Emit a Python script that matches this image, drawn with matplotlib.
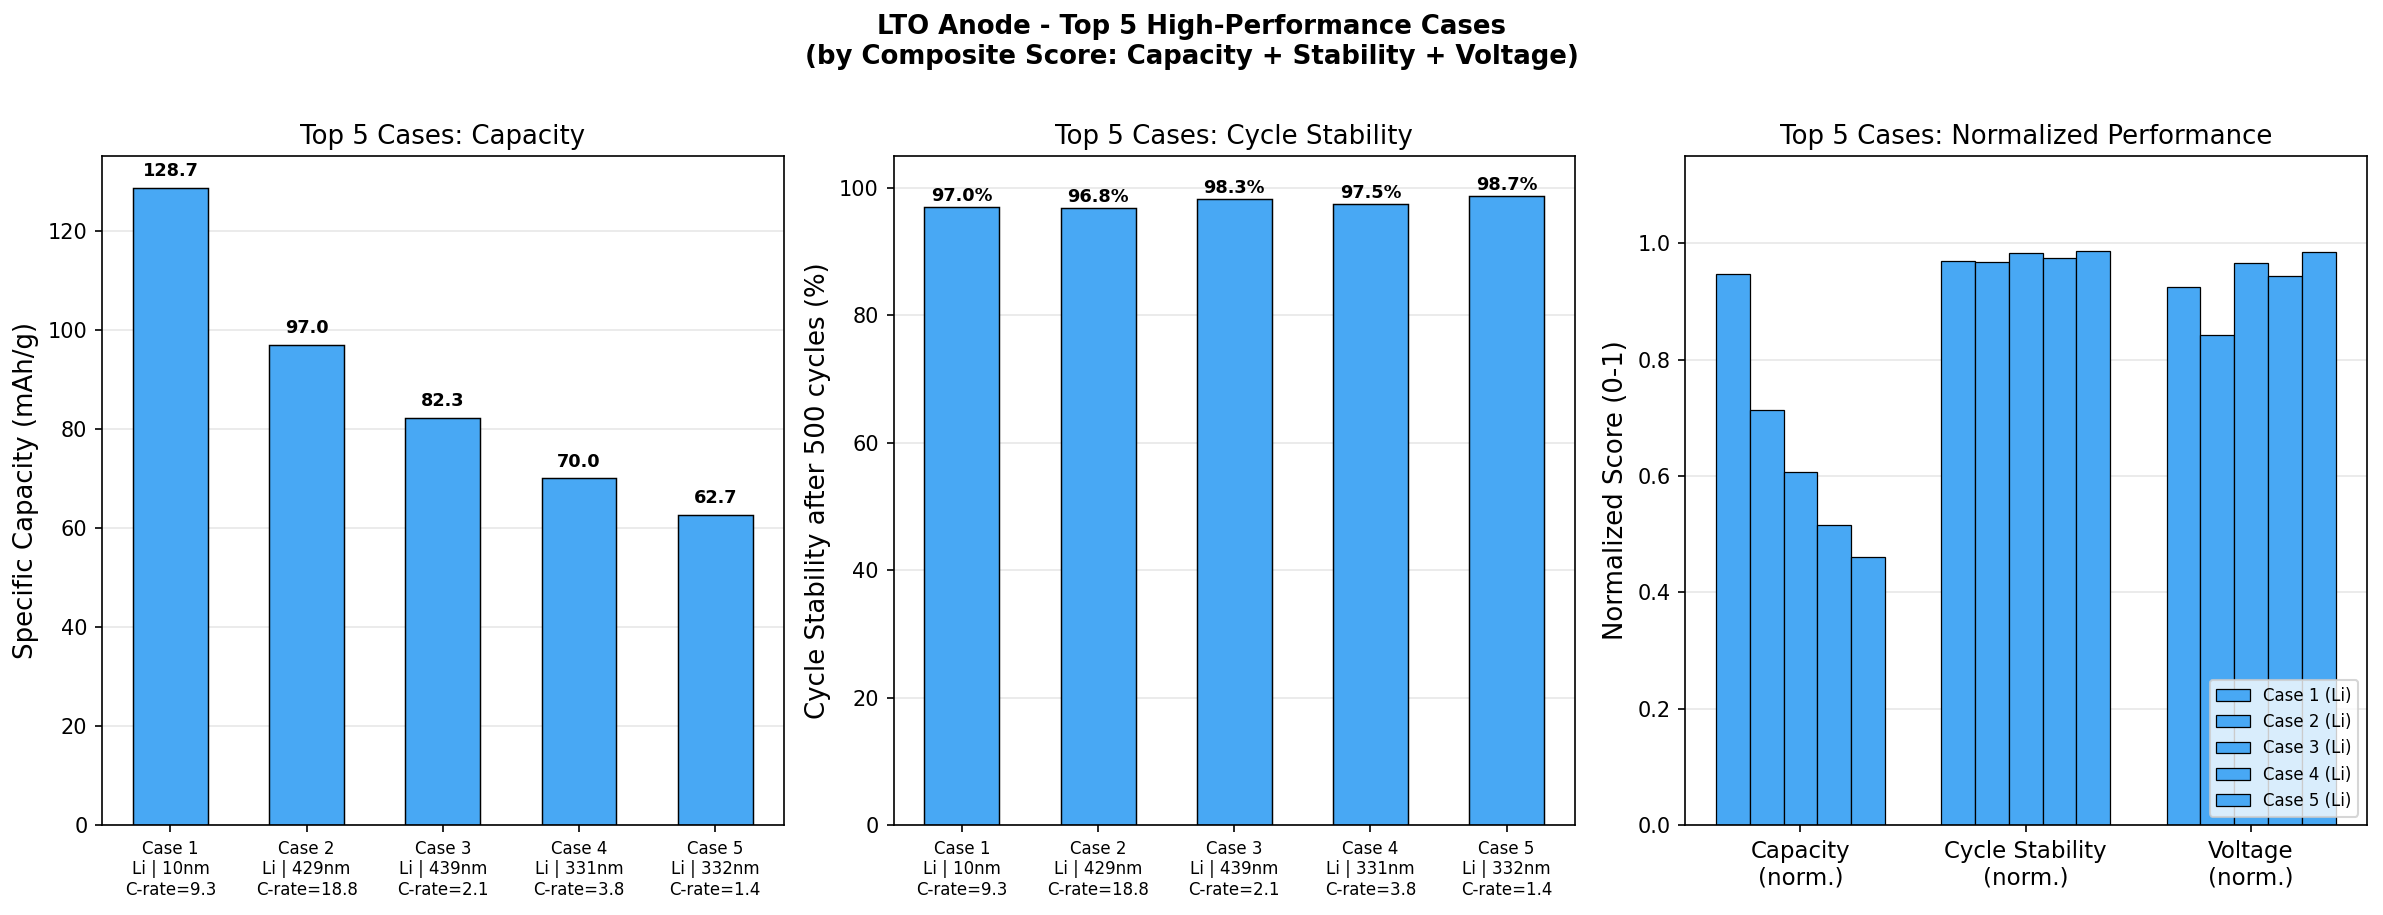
import matplotlib
matplotlib.use("Agg")
import matplotlib.pyplot as plt
import numpy as np

# top 5 cases
case_labels = ["Case 1\nLi | 10nm\nC-rate=9.3",
               "Case 2\nLi | 429nm\nC-rate=18.8",
               "Case 3\nLi | 439nm\nC-rate=2.1",
               "Case 4\nLi | 331nm\nC-rate=3.8",
               "Case 5\nLi | 332nm\nC-rate=1.4"]
legend_labels = ["Case 1 (Li)", "Case 2 (Li)", "Case 3 (Li)", "Case 4 (Li)", "Case 5 (Li)"]
capacity = [128.7, 97.0, 82.3, 70.0, 62.7]
stability = [97.0, 96.8, 98.3, 97.5, 98.7]
cap_norm = [0.947, 0.714, 0.606, 0.515, 0.461]
stab_norm = [0.970, 0.968, 0.983, 0.975, 0.987]
volt_norm = [0.925, 0.842, 0.966, 0.944, 0.985]
metric_labels = ["Capacity\n(norm.)", "Cycle Stability\n(norm.)", "Voltage\n(norm.)"]

COLOR = "#48a8f4"

fig, axes = plt.subplots(1, 3, figsize=(15.89, 6.1), dpi=150)
fig.suptitle("LTO Anode - Top 5 High-Performance Cases\n(by Composite Score: Capacity + Stability + Voltage)",
             fontsize=12.5, fontweight="bold", y=0.985)

x = np.arange(len(capacity))

# capacity
ax = axes[0]
bars = ax.bar(x, capacity, width=0.55, color=COLOR, edgecolor="black", linewidth=0.7)
for b, v in zip(bars, capacity):
    ax.text(b.get_x() + b.get_width() / 2, v + 1.5, f"{v:.1f}", ha="center", va="bottom",
            fontsize=8.5, fontweight="bold")
ax.set_xticks(x)
ax.set_xticklabels(case_labels, fontsize=8)
ax.set_ylabel("Specific Capacity (mAh/g)", fontsize=12.5)
ax.set_title("Top 5 Cases: Capacity", fontsize=12.5)
ax.set_ylim(0, max(capacity) * 1.05)
ax.grid(axis="y", alpha=0.3)
ax.set_axisbelow(True)

# stability
ax = axes[1]
bars = ax.bar(x, stability, width=0.55, color=COLOR, edgecolor="black", linewidth=0.7)
for b, v in zip(bars, stability):
    ax.text(b.get_x() + b.get_width() / 2, v + 0.3, f"{v:.1f}%", ha="center", va="bottom",
            fontsize=8.5, fontweight="bold")
ax.set_xticks(x)
ax.set_xticklabels(case_labels, fontsize=8)
ax.set_ylabel("Cycle Stability after 500 cycles (%)", fontsize=12.5)
ax.set_title("Top 5 Cases: Cycle Stability", fontsize=12.5)
ax.set_ylim(0, 105)
ax.grid(axis="y", alpha=0.3)
ax.set_axisbelow(True)

# normalized
ax = axes[2]
xm = np.arange(len(metric_labels))
w = 0.15
for i in range(len(capacity)):
    vals = [cap_norm[i], stab_norm[i], volt_norm[i]]
    ax.bar(xm + (i - 2) * w, vals, width=w, color=COLOR, edgecolor="black", linewidth=0.6,
           label=legend_labels[i])
ax.set_xticks(xm)
ax.set_xticklabels(metric_labels, fontsize=11)
ax.set_ylabel("Normalized Score (0-1)", fontsize=12.5)
ax.set_title("Top 5 Cases: Normalized Performance", fontsize=12.5)
ax.set_ylim(0, 1.15)
ax.legend(loc="lower right", fontsize=8)
ax.grid(axis="y", alpha=0.3)
ax.set_axisbelow(True)

plt.subplots_adjust(left=0.0428, right=0.9929, top=0.8295, bottom=0.0984, wspace=0.1613)
plt.savefig("out.png", dpi=150)
